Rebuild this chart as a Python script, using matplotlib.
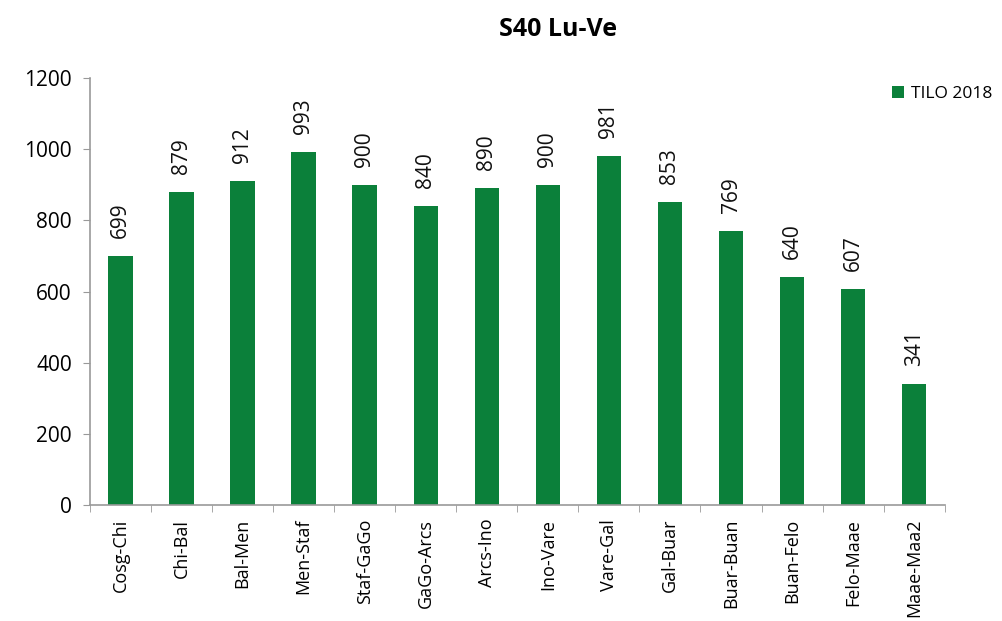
import matplotlib.pyplot as plt
import numpy as np

# data
categories = ['Cosg-Chi', 'Chi-Bal', 'Bal-Men', 'Men-Staf', 'Staf-GaGo', 'GaGo-Arcs',
              'Arcs-Ino', 'Ino-Vare', 'Vare-Gal', 'Gal-Buar', 'Buar-Buan', 'Buan-Felo',
              'Felo-Maae', 'Maae-Maa2']
tilo_2018 = [699, 879, 912, 993, 900, 840, 890, 900, 981, 853, 769, 640, 607, 341]
yticks = [0, 200, 400, 600, 800, 1000, 1200]

plt.rcParams['font.family'] = ['Open Sans', 'DejaVu Sans']

fig = plt.figure(figsize=(10.02, 6.21), dpi=100)
ax = fig.add_axes([0.0898, 0.187, 0.853, 0.687])

x = np.arange(len(categories))
bars = ax.bar(x, tilo_2018, width=0.4, color='#0b803a', label='TILO 2018')

# value labels above the bars
for b, v in zip(bars, tilo_2018):
    ax.annotate(str(v), (b.get_x() + b.get_width() / 2, v), xytext=(0, 13),
                textcoords='offset points', rotation=90, ha='center', va='bottom',
                fontsize=15, color='#111111')

ax.set_xlim(-0.5, len(categories) - 0.5)
ax.set_ylim(0, 1200)
ax.set_yticks(yticks)
ax.tick_params(axis='y', labelsize=15, length=5, color='#999999', pad=8)

# category labels centred, tick marks between categories
ax.set_xticks(x)
ax.set_xticklabels(categories, rotation=90, fontsize=13)
ax.tick_params(axis='x', which='major', length=0, pad=10)
ax.set_xticks(np.arange(-0.5, len(categories)), minor=True)
ax.tick_params(axis='x', which='minor', length=5, color='#999999')

for s in ['top', 'right']:
    ax.spines[s].set_visible(False)
for s in ['left', 'bottom']:
    ax.spines[s].set_color('#999999')
    ax.spines[s].set_linewidth(1.2)

fig.legend(loc='upper right', bbox_to_anchor=(1.006, 0.887), frameon=False,
           fontsize=12.5, handlelength=0.7, handleheight=0.7, handletextpad=0.4)

fig.text(0.557, 0.952, 'S40 Lu-Ve', ha='center', va='center', fontsize=18, fontweight='bold')

plt.savefig('out.png', dpi=100)
